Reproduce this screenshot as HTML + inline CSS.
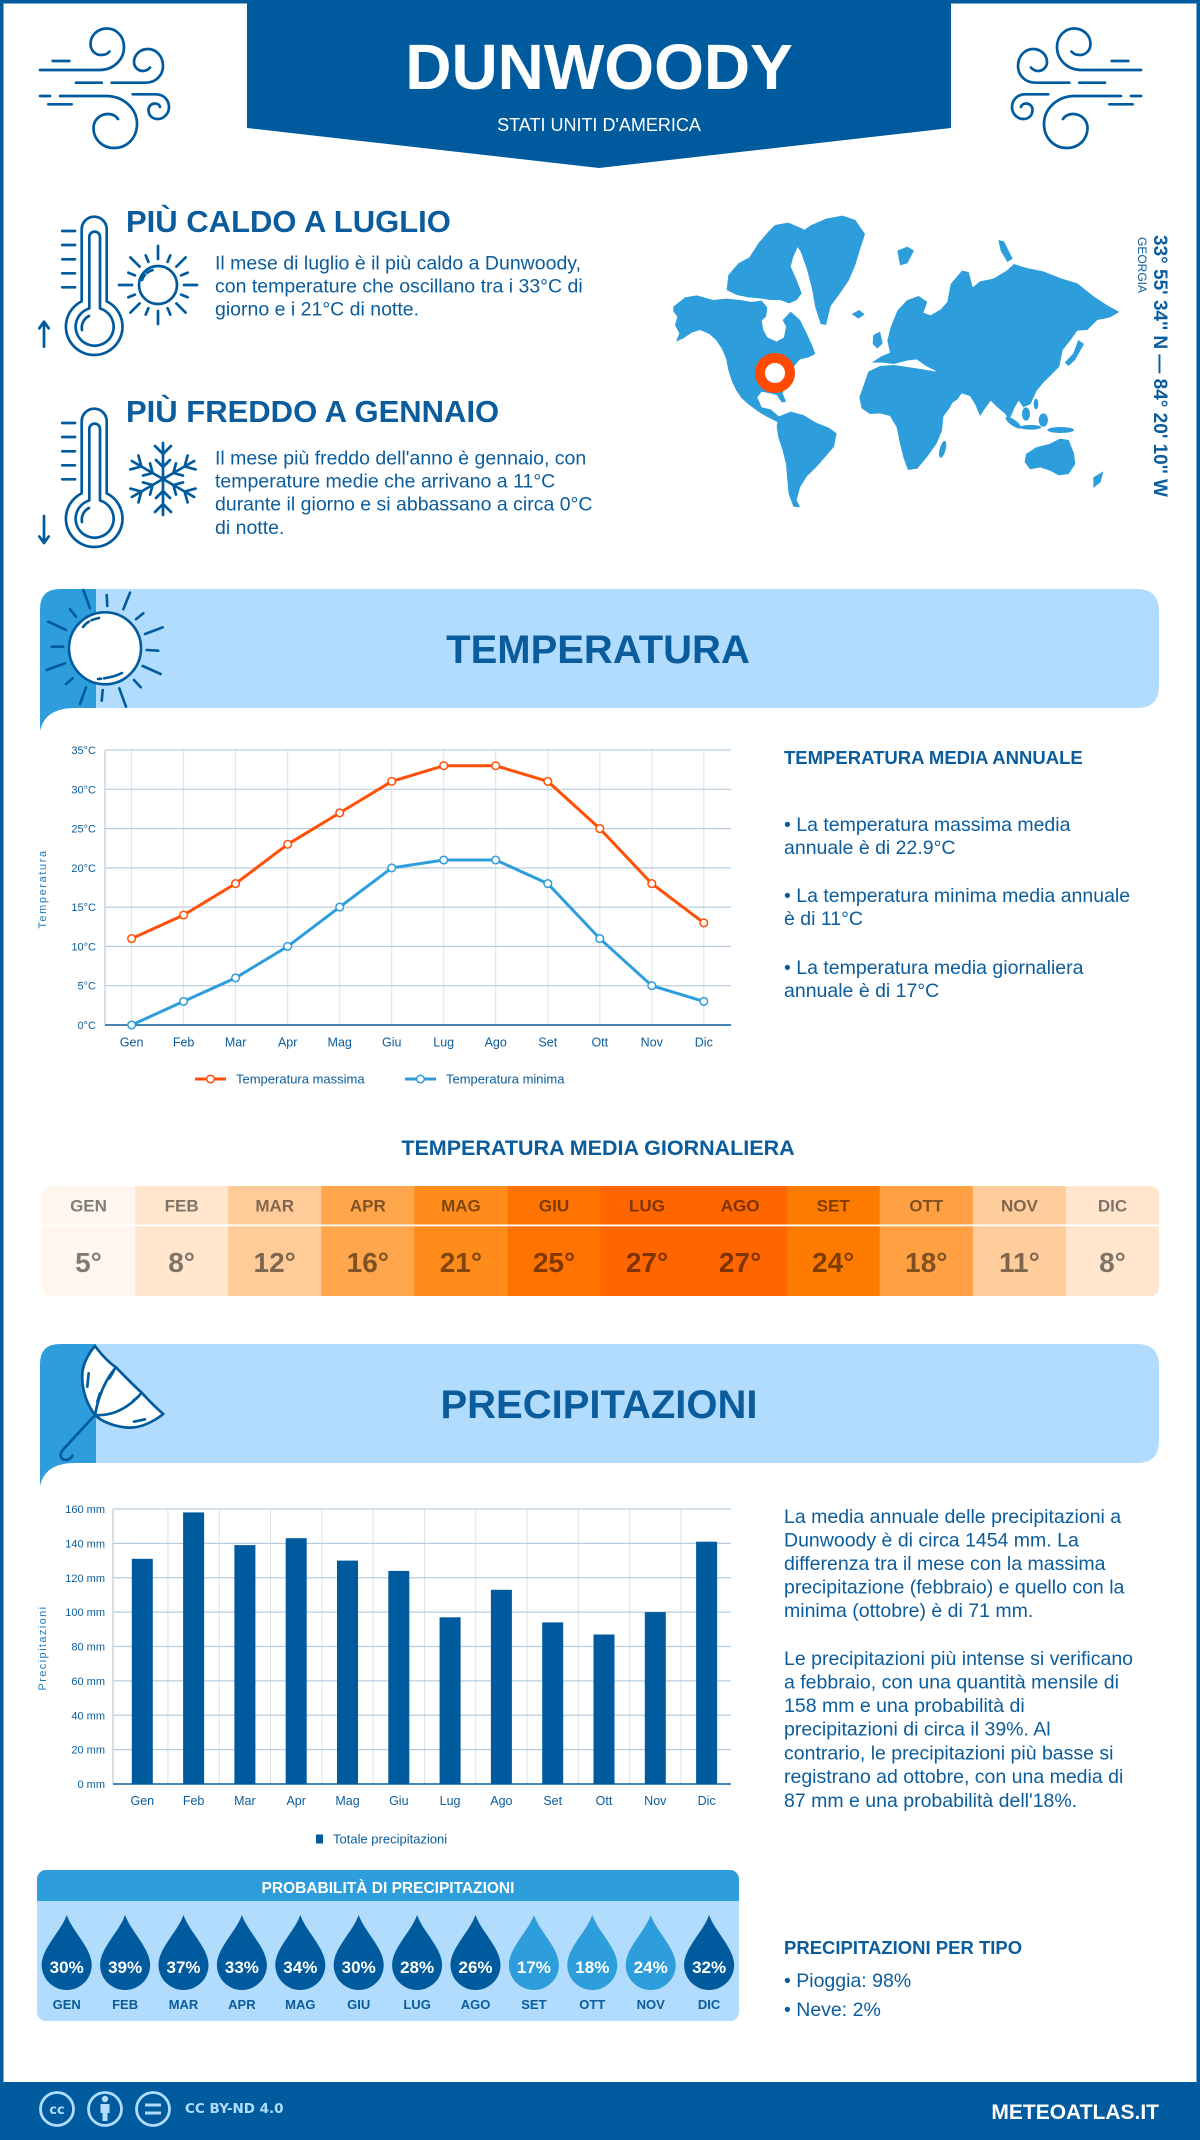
<!DOCTYPE html>
<html><head><meta charset="utf-8"><title>Dunwoody</title>
<style>
html,body{margin:0;padding:0;background:#fff;}
svg{display:block;font-family:"Liberation Sans",Arial,sans-serif;}
</style></head><body>
<svg width="1200" height="2140" viewBox="0 0 1200 2140" xmlns="http://www.w3.org/2000/svg">
<rect width="1200" height="2140" fill="#fff"/>
<rect x="1.75" y="1.75" width="1196.5" height="2140" fill="none" stroke="#005b9e" stroke-width="3.5"/>

<!-- HEADER -->
<polygon points="247,0 951,0 951,128 599,168 247,128" fill="#005b9e"/>
<text x="599" y="89" text-anchor="middle" font-size="64" font-weight="bold" fill="#fff">DUNWOODY</text>
<text x="599" y="131" text-anchor="middle" font-size="18" fill="#fff">STATI UNITI D'AMERICA</text>

<g fill="none" stroke="#005b9e" stroke-width="2.7" stroke-linecap="round">
<path d="M52.7 61 H69.3"/>
<path d="M40 70 H100 C113 70 124 60 124 47 C124 36 116 28.5 107 28.5 C98 28.5 90.5 35 90.5 44 C90.5 50 95 55 101 55 C105 55 108 53.5 109.5 51.5"/>
<path d="M76 82.7 H101.7"/>
<path d="M111.7 82.7 H146 C156 82.7 163 75 163 66 C163 56 156 49 148 49 C140 49 134 55 134 62 C134 67 138 71 143 71 C146 71 149 69 150 67.5"/>
<path d="M40 96 H50"/>
<path d="M60 96 H106 C124 96 137 109 137 124 C137 138 127 148 114 148 C102 148 93.5 139 93.5 128 C93.5 120 100 114 108 114 C113 114 116.5 116.5 118 119"/>
<path d="M48.3 104.3 H71.7"/>
<path d="M132.7 94.3 H156 C163.5 94.3 169 100 169 107 C169 113.5 164 119 157.5 119 C152 119 148.5 115 148.5 110 C148.5 106 151.5 103.5 155 103.5 C157.5 103.5 159.5 105 160 107"/>
</g>
<g transform="translate(1181,0) scale(-1,1)" fill="none" stroke="#005b9e" stroke-width="2.7" stroke-linecap="round">
<path d="M52.7 61 H69.3"/>
<path d="M40 70 H100 C113 70 124 60 124 47 C124 36 116 28.5 107 28.5 C98 28.5 90.5 35 90.5 44 C90.5 50 95 55 101 55 C105 55 108 53.5 109.5 51.5"/>
<path d="M76 82.7 H101.7"/>
<path d="M111.7 82.7 H146 C156 82.7 163 75 163 66 C163 56 156 49 148 49 C140 49 134 55 134 62 C134 67 138 71 143 71 C146 71 149 69 150 67.5"/>
<path d="M40 96 H50"/>
<path d="M60 96 H106 C124 96 137 109 137 124 C137 138 127 148 114 148 C102 148 93.5 139 93.5 128 C93.5 120 100 114 108 114 C113 114 116.5 116.5 118 119"/>
<path d="M48.3 104.3 H71.7"/>
<path d="M132.7 94.3 H156 C163.5 94.3 169 100 169 107 C169 113.5 164 119 157.5 119 C152 119 148.5 115 148.5 110 C148.5 106 151.5 103.5 155 103.5 C157.5 103.5 159.5 105 160 107"/>
</g>

<!-- HOT / COLD -->
<g fill="none" stroke="#005b9e" stroke-width="2.7" stroke-linecap="round" stroke-linejoin="round">
  <path d="M81.7 301.3 V229.2 A12.5 12.5 0 0 1 106.7 229.2 V301.3 A28.3 28.3 0 1 1 81.7 301.3 Z"/>
  <path d="M89.3 308.5 V237 A5.35 5.35 0 0 1 100 237 V308.5 A19 19 0 1 1 89.3 308.5 Z"/>
  <path d="M82 330 A13 13 0 0 1 89 316"/>
  <path d="M62.3 231 H75 M62.3 245 H75 M62.3 259.3 H75 M62.3 273.3 H75 M62.3 287.3 H75"/>
  <path d="M44 346.7 V321.7 M39.3 328.3 L44 321.7 L48.7 328.3"/>
  <circle cx="158" cy="285" r="19"/>
  <path d="M142 280 Q145 272 153 270" stroke-dasharray="6 3"/>
  <path d="M184 285 L197 285 M176.4 303.4 L185.6 312.6 M158 311 L158 324 M139.6 303.4 L130.4 312.6 M132 285 L119 285 M139.6 266.6 L130.4 257.4 M158 259 L158 246 M176.4 266.6 L185.6 257.4 M181.1 294.6 L187.6 297.3 M167.6 308.1 L170.3 314.6 M148.4 308.1 L145.7 314.6 M134.9 294.6 L128.4 297.3 M134.9 275.4 L128.4 272.7 M148.4 261.9 L145.7 255.4 M167.6 261.9 L170.3 255.4 M181.1 275.4 L187.6 272.7"/>

  <g transform="translate(0,192)">
    <path d="M81.7 301.3 V229.2 A12.5 12.5 0 0 1 106.7 229.2 V301.3 A28.3 28.3 0 1 1 81.7 301.3 Z"/>
    <path d="M89.3 308.5 V237 A5.35 5.35 0 0 1 100 237 V308.5 A19 19 0 1 1 89.3 308.5 Z"/>
    <path d="M82 330 A13 13 0 0 1 89 316"/>
    <path d="M62.3 231 H75 M62.3 245 H75 M62.3 259.3 H75 M62.3 273.3 H75 M62.3 287.3 H75"/>
  </g>
  <path d="M44 516 V543 M39.3 536.5 L44 543 L48.7 536.5"/>
  <g transform="translate(163,479)">
    <path d="M0 0 V-36 M-8 -33 L0 -25 L8 -33 M-7 -19 L0 -12 L7 -19"/>
    <path transform="rotate(60)" d="M0 0 V-36 M-8 -33 L0 -25 L8 -33 M-7 -19 L0 -12 L7 -19"/>
    <path transform="rotate(120)" d="M0 0 V-36 M-8 -33 L0 -25 L8 -33 M-7 -19 L0 -12 L7 -19"/>
    <path transform="rotate(180)" d="M0 0 V-36 M-8 -33 L0 -25 L8 -33 M-7 -19 L0 -12 L7 -19"/>
    <path transform="rotate(240)" d="M0 0 V-36 M-8 -33 L0 -25 L8 -33 M-7 -19 L0 -12 L7 -19"/>
    <path transform="rotate(300)" d="M0 0 V-36 M-8 -33 L0 -25 L8 -33 M-7 -19 L0 -12 L7 -19"/>
  </g>
</g>

<g fill="#0b5c9c">
<text x="126" y="232" font-size="31" font-weight="bold">PIÙ CALDO A LUGLIO</text>
<text x="215" y="269.5" font-size="19.5">Il mese di luglio è il più caldo a Dunwoody,</text>
<text x="215" y="292.5" font-size="19.5">con temperature che oscillano tra i 33°C di</text>
<text x="215" y="315.5" font-size="19.5">giorno e i 21°C di notte.</text>
<text x="126" y="422" font-size="31" font-weight="bold">PIÙ FREDDO A GENNAIO</text>
<text x="215" y="464.5" font-size="19.5">Il mese più freddo dell'anno è gennaio, con</text>
<text x="215" y="487.5" font-size="19.5">temperature medie che arrivano a 11°C</text>
<text x="215" y="510.5" font-size="19.5">durante il giorno e si abbassano a circa 0°C</text>
<text x="215" y="534" font-size="19.5">di notte.</text>
</g>

<!-- MAP -->
<g transform="translate(660,200) scale(0.333333)" fill="#2e9ddc">
<polygon points="40,320 75,292 110,286 160,300 200,296 240,300 275,306 305,302 322,322 318,350 305,362 310,390 322,412 350,425 372,412 378,380 368,360 392,335 420,360 440,400 458,440 466,462 445,472 420,478 405,495 392,515 385,540 372,560 368,580 378,605 366,608 350,585 330,580 305,575 292,592 305,622 332,628 352,645 372,662 385,672 372,678 350,665 320,650 295,635 268,615 245,595 228,570 216,545 205,510 198,475 185,445 168,420 148,402 120,390 95,398 70,415 48,425 58,400 45,375 52,350 40,335"/>
<polygon points="205,225 235,190 268,172 295,130 325,95 345,75 385,68 432,88 418,130 400,170 392,200 410,240 425,280 410,300 388,310 360,300 330,300 300,295 265,292 230,285 200,270"/>
<polygon points="418,100 452,76 498,56 548,47 586,60 615,102 602,142 585,198 566,242 540,280 512,318 498,375 482,372 466,322 455,262 440,205 422,155 402,125"/>
<polygon points="575,342 598,330 614,343 595,356"/>
<polygon points="355,650 392,635 430,645 468,668 508,684 530,700 522,740 492,775 468,802 440,830 420,862 410,900 420,922 400,920 386,882 382,840 378,792 368,752 355,712 350,680"/>
<polygon points="606,570 625,515 660,498 700,495 735,500 770,505 800,510 828,515 845,548 862,585 882,598 870,622 850,650 846,692 830,730 802,770 772,806 744,810 730,772 718,722 710,682 690,648 660,640 630,642 605,625 598,592"/>
<ellipse cx="848" cy="748" rx="9" ry="26" transform="rotate(15 848 748)"/>
<polygon points="636,488 662,470 690,458 682,422 692,382 712,332 742,300 776,288 802,306 790,338 812,346 842,328 862,306 872,252 906,212 926,216 938,262 960,244 1000,236 1040,212 1062,192 1100,204 1150,214 1200,234 1252,250 1302,290 1342,316 1378,336 1350,352 1312,360 1282,390 1252,392 1232,420 1208,450 1198,500 1172,526 1150,548 1130,572 1112,612 1090,622 1076,602 1064,622 1048,660 1034,640 1010,620 992,602 972,630 960,648 945,612 930,588 905,580 892,598 872,612 850,575 842,545 826,512 798,498 770,478 740,482 702,492 668,488"/>
<polygon points="640,405 660,395 668,430 652,446 638,432"/>
<polygon points="1255,420 1272,432 1245,480 1226,498 1214,488 1240,460"/>
<polygon points="712,152 742,140 762,152 742,190 720,196"/>
<polygon points="1015,120 1032,124 1058,176 1042,186 1022,152"/>
<polygon points="1098,762 1128,742 1168,732 1200,716 1226,720 1242,760 1246,792 1226,822 1196,826 1170,812 1140,802 1110,808 1094,786"/>
<polygon points="1300,832 1330,814 1322,846 1300,864"/>
<ellipse cx="1060" cy="668" rx="28" ry="9" transform="rotate(35 1060 668)"/>
<ellipse cx="1112" cy="682" rx="32" ry="7"/>
<ellipse cx="1150" cy="660" rx="14" ry="20"/>
<ellipse cx="1202" cy="690" rx="40" ry="9"/>
<ellipse cx="1098" cy="642" rx="12" ry="20"/>
<ellipse cx="1128" cy="612" rx="7" ry="16"/>
</g>
<circle cx="775" cy="373" r="15" fill="#fff" stroke="#ff4a00" stroke-width="10"/>
<text transform="translate(1154,235) rotate(90)" font-size="19" font-weight="bold" fill="#0b5c9c">33° 55' 34'' N — 84° 20' 10'' W</text>
<text transform="translate(1138,237) rotate(90)" font-size="12" fill="#0b5c9c">GEORGIA</text>

<!-- TEMPERATURA BANNER -->
<path d="M96 589 H1137 Q1159 589 1159 611 V686 Q1159 708 1137 708 H96 Z" fill="#b1dcfd"/>
<path d="M40 731 V609 Q40 589 60 589 H96 V708 H75 Q45 708 40 731 Z" fill="#2e9ddc"/>
<g fill="none" stroke="#005b9e" stroke-width="2.6" stroke-linecap="round">
<path d="M83.3 590 L90 608.3 M106.7 595 L107.3 606 M130 592.7 L123.3 609.3 M70 609.3 L76 616.7 M143.3 613.3 L136 619.3 M48.3 621.7 L66 630 M145 634 L162.7 627.3 M51.7 646.7 L63.3 646.7 M146.7 650 L158.3 650.7 M46.7 670 L65 663.3 M142.7 666 L160.7 674 M66 684 L72.7 678.3 M134 680 L140.7 687.3 M80 704 L86 687.3 M102.7 690 L101.7 700.7 M119.3 688.3 L126 706.7"/>
<circle cx="105" cy="648.3" r="36" fill="#fff"/>
<path d="M83 627 Q88 620 99 618" stroke-dasharray="8 3"/>
<path d="M98 679 Q112 678 122 673" stroke-dasharray="3 3 20 0"/>
</g>
<text x="598" y="663" text-anchor="middle" font-size="40" font-weight="bold" fill="#0b5c9c">TEMPERATURA</text>

<!-- TEMP CHART -->
<g stroke="#d6e3ec" stroke-width="1">
<path d="M131.6 750 V1025 M183.6 750 V1025 M235.6 750 V1025 M287.7 750 V1025 M339.7 750 V1025 M391.7 750 V1025 M443.7 750 V1025 M495.7 750 V1025 M547.8 750 V1025 M599.8 750 V1025 M651.8 750 V1025 M703.8 750 V1025"/>
</g>
<g stroke="#b9cddd" stroke-width="1.2">
<path d="M105 750 H731 M105 789.3 H731 M105 828.6 H731 M105 867.9 H731 M105 907.1 H731 M105 946.4 H731 M105 985.7 H731 M105 750 V1025"/>
</g>
<path d="M105 1025 H731" stroke="#0b5c9c" stroke-width="1.6"/>
<g font-size="11" fill="#0b5c9c" text-anchor="end">
<text x="96" y="754">35°C</text><text x="96" y="793.3">30°C</text><text x="96" y="832.6">25°C</text><text x="96" y="871.9">20°C</text><text x="96" y="911.1">15°C</text><text x="96" y="950.4">10°C</text><text x="96" y="989.7">5°C</text><text x="96" y="1029">0°C</text>
</g>
<g font-size="12.5" fill="#0b5c9c" text-anchor="middle">
<text x="131.6" y="1046.5">Gen</text><text x="183.6" y="1046.5">Feb</text><text x="235.6" y="1046.5">Mar</text><text x="287.7" y="1046.5">Apr</text><text x="339.7" y="1046.5">Mag</text><text x="391.7" y="1046.5">Giu</text><text x="443.7" y="1046.5">Lug</text><text x="495.7" y="1046.5">Ago</text><text x="547.8" y="1046.5">Set</text><text x="599.8" y="1046.5">Ott</text><text x="651.8" y="1046.5">Nov</text><text x="703.8" y="1046.5">Dic</text>
</g>
<text transform="translate(46,889) rotate(-90)" text-anchor="middle" font-size="11" letter-spacing="1.6" fill="#1f78b8">Temperatura</text>
<polyline fill="none" stroke="#ff5008" stroke-width="3" points="131.6,938.6 183.6,915 235.6,883.6 287.7,844.3 339.7,812.9 391.7,781.4 443.7,765.7 495.7,765.7 547.8,781.4 599.8,828.6 651.8,883.6 703.8,922.9"/>
<polyline fill="none" stroke="#2e9ddc" stroke-width="3" points="131.6,1025 183.6,1001.4 235.6,977.9 287.7,946.4 339.7,907.1 391.7,867.9 443.7,860 495.7,860 547.8,883.6 599.8,938.6 651.8,985.7 703.8,1001.4"/>
<g fill="#fff" stroke="#ff5008" stroke-width="1.5">
<circle cx="131.6" cy="938.6" r="3.8"/><circle cx="183.6" cy="915" r="3.8"/><circle cx="235.6" cy="883.6" r="3.8"/><circle cx="287.7" cy="844.3" r="3.8"/><circle cx="339.7" cy="812.9" r="3.8"/><circle cx="391.7" cy="781.4" r="3.8"/><circle cx="443.7" cy="765.7" r="3.8"/><circle cx="495.7" cy="765.7" r="3.8"/><circle cx="547.8" cy="781.4" r="3.8"/><circle cx="599.8" cy="828.6" r="3.8"/><circle cx="651.8" cy="883.6" r="3.8"/><circle cx="703.8" cy="922.9" r="3.8"/>
</g>
<g fill="#fff" stroke="#2e9ddc" stroke-width="1.5">
<circle cx="131.6" cy="1025" r="3.8"/><circle cx="183.6" cy="1001.4" r="3.8"/><circle cx="235.6" cy="977.9" r="3.8"/><circle cx="287.7" cy="946.4" r="3.8"/><circle cx="339.7" cy="907.1" r="3.8"/><circle cx="391.7" cy="867.9" r="3.8"/><circle cx="443.7" cy="860" r="3.8"/><circle cx="495.7" cy="860" r="3.8"/><circle cx="547.8" cy="883.6" r="3.8"/><circle cx="599.8" cy="938.6" r="3.8"/><circle cx="651.8" cy="985.7" r="3.8"/><circle cx="703.8" cy="1001.4" r="3.8"/>
</g>
<path d="M195 1079 H226" stroke="#ff5008" stroke-width="3"/><circle cx="210.5" cy="1079" r="3.8" fill="#fff" stroke="#ff5008" stroke-width="1.5"/>
<text x="236" y="1083.5" font-size="13" fill="#0b5c9c">Temperatura massima</text>
<path d="M405 1079 H436" stroke="#2e9ddc" stroke-width="3"/><circle cx="420.5" cy="1079" r="3.8" fill="#fff" stroke="#2e9ddc" stroke-width="1.5"/>
<text x="446" y="1083.5" font-size="13" fill="#0b5c9c">Temperatura minima</text>

<g fill="#0b5c9c">
<text x="784" y="764" font-size="18.5" font-weight="bold">TEMPERATURA MEDIA ANNUALE</text>
<text x="784" y="831" font-size="19.5">• La temperatura massima media</text>
<text x="784" y="854" font-size="19.5">annuale è di 22.9°C</text>
<text x="784" y="902" font-size="19.5">• La temperatura minima media annuale</text>
<text x="784" y="925" font-size="19.5">è di 11°C</text>
<text x="784" y="974" font-size="19.5">• La temperatura media giornaliera</text>
<text x="784" y="997" font-size="19.5">annuale è di 17°C</text>
</g>

<!-- DAILY TABLE -->
<text x="598" y="1155" text-anchor="middle" font-size="21.5" font-weight="bold" fill="#0b5c9c">TEMPERATURA MEDIA GIORNALIERA</text>
<clipPath id="tc"><rect x="42" y="1186" width="1117" height="110" rx="8"/></clipPath>
<g clip-path="url(#tc)">
<rect x="42" y="1186" width="94" height="110" fill="#fff7ef"/>
<rect x="135.08" y="1186" width="94" height="110" fill="#ffe6cd"/>
<rect x="228.17" y="1186" width="94" height="110" fill="#ffcc99"/>
<rect x="321.25" y="1186" width="94" height="110" fill="#ffa54b"/>
<rect x="414.33" y="1186" width="94" height="110" fill="#ff8c1a"/>
<rect x="507.42" y="1186" width="94" height="110" fill="#ff7300"/>
<rect x="600.5" y="1186" width="94" height="110" fill="#ff6600"/>
<rect x="693.58" y="1186" width="94" height="110" fill="#ff6600"/>
<rect x="786.67" y="1186" width="94" height="110" fill="#ff7b00"/>
<rect x="879.75" y="1186" width="94" height="110" fill="#ffa142"/>
<rect x="972.83" y="1186" width="94" height="110" fill="#ffcd9b"/>
<rect x="1065.92" y="1186" width="94" height="110" fill="#ffe6cd"/>
<rect x="42" y="1224.5" width="1117" height="1.8" fill="#fff"/>
</g>
<g fill="#000" fill-opacity="0.5" text-anchor="middle" font-weight="bold">
<g font-size="17">
<text x="88.5" y="1211.5">GEN</text><text x="181.6" y="1211.5">FEB</text><text x="274.7" y="1211.5">MAR</text><text x="367.8" y="1211.5">APR</text><text x="460.9" y="1211.5">MAG</text><text x="554" y="1211.5">GIU</text><text x="647" y="1211.5">LUG</text><text x="740.1" y="1211.5">AGO</text><text x="833.2" y="1211.5">SET</text><text x="926.3" y="1211.5">OTT</text><text x="1019.4" y="1211.5">NOV</text><text x="1112.5" y="1211.5">DIC</text>
</g>
<g font-size="28">
<text x="88.5" y="1272">5°</text><text x="181.6" y="1272">8°</text><text x="274.7" y="1272">12°</text><text x="367.8" y="1272">16°</text><text x="460.9" y="1272">21°</text><text x="554" y="1272">25°</text><text x="647" y="1272">27°</text><text x="740.1" y="1272">27°</text><text x="833.2" y="1272">24°</text><text x="926.3" y="1272">18°</text><text x="1019.4" y="1272">11°</text><text x="1112.5" y="1272">8°</text>
</g>
</g>

<!-- PRECIPITAZIONI BANNER -->
<path d="M96 1344 H1137 Q1159 1344 1159 1366 V1441 Q1159 1463 1137 1463 H96 Z" fill="#b1dcfd"/>
<path d="M40 1486 V1364 Q40 1344 60 1344 H96 V1463 H75 Q45 1463 40 1486 Z" fill="#2e9ddc"/>
<g transform="translate(30,1330) scale(0.333333)" fill="none" stroke="#005b9e" stroke-width="8" stroke-linecap="round" stroke-linejoin="round">
<path fill="#fff" d="M195 48 C215 75 240 100 258 112 C285 140 315 170 335 188 C355 210 380 235 400 252 C370 275 330 298 285 292 C250 288 215 275 195 255 C168 220 152 170 158 120 C165 88 180 65 195 48 Z"/>
<path d="M195 255 C205 200 225 150 258 112"/>
<path d="M195 255 C250 260 300 230 335 188"/>
<path d="M176 130 L172 170 M210 190 L202 215 M325 200 L310 212 M312 275 L345 268 M250 125 L238 145"/>
<path d="M195 255 L100 358 C86 374 92 390 108 390 C118 390 125 382 127 377"/>
</g>
<text x="599" y="1418" text-anchor="middle" font-size="40" font-weight="bold" fill="#0b5c9c">PRECIPITAZIONI</text>

<!-- PRECIP CHART -->
<g stroke="#d6e3ec" stroke-width="1">
<path d="M167.95 1509 V1784 M219.25 1509 V1784 M270.55 1509 V1784 M321.85 1509 V1784 M373.15 1509 V1784 M424.45 1509 V1784 M475.75 1509 V1784 M527.05 1509 V1784 M578.35 1509 V1784 M629.65 1509 V1784 M680.95 1509 V1784"/>
</g>
<g stroke="#b9cddd" stroke-width="1.2">
<path d="M113 1509 H731 M113 1543.4 H731 M113 1577.75 H731 M113 1612.1 H731 M113 1646.5 H731 M113 1680.9 H731 M113 1715.25 H731 M113 1749.6 H731 M113 1509 V1784"/>
</g>
<path d="M113 1784 H731" stroke="#0b5c9c" stroke-width="1.6"/>
<g fill="#005b9e">
<rect x="131.8" y="1558.8" width="21" height="225.2"/>
<rect x="183.1" y="1512.4" width="21" height="271.6"/>
<rect x="234.4" y="1545.1" width="21" height="238.9"/>
<rect x="285.7" y="1538.2" width="21" height="245.8"/>
<rect x="337" y="1560.6" width="21" height="223.4"/>
<rect x="388.3" y="1570.9" width="21" height="213.1"/>
<rect x="439.6" y="1617.3" width="21" height="166.7"/>
<rect x="490.9" y="1589.8" width="21" height="194.2"/>
<rect x="542.2" y="1622.4" width="21" height="161.6"/>
<rect x="593.5" y="1634.5" width="21" height="149.5"/>
<rect x="644.8" y="1612.1" width="21" height="171.9"/>
<rect x="696.1" y="1541.7" width="21" height="242.3"/>
</g>
<g font-size="11" fill="#0b5c9c" text-anchor="end">
<text x="105" y="1513">160 mm</text><text x="105" y="1547.4">140 mm</text><text x="105" y="1581.75">120 mm</text><text x="105" y="1616.1">100 mm</text><text x="105" y="1650.5">80 mm</text><text x="105" y="1684.9">60 mm</text><text x="105" y="1719.25">40 mm</text><text x="105" y="1753.6">20 mm</text><text x="105" y="1788">0 mm</text>
</g>
<g font-size="12.5" fill="#0b5c9c" text-anchor="middle">
<text x="142.3" y="1805">Gen</text><text x="193.6" y="1805">Feb</text><text x="244.9" y="1805">Mar</text><text x="296.2" y="1805">Apr</text><text x="347.5" y="1805">Mag</text><text x="398.8" y="1805">Giu</text><text x="450.1" y="1805">Lug</text><text x="501.4" y="1805">Ago</text><text x="552.7" y="1805">Set</text><text x="604" y="1805">Ott</text><text x="655.3" y="1805">Nov</text><text x="706.6" y="1805">Dic</text>
</g>
<text transform="translate(46,1648) rotate(-90)" text-anchor="middle" font-size="11" letter-spacing="1.4" fill="#1f78b8">Precipitazioni</text>
<rect x="316" y="1834.5" width="7" height="9" fill="#005b9e"/>
<text x="333" y="1843.5" font-size="13" fill="#0b5c9c">Totale precipitazioni</text>

<g fill="#0b5c9c" font-size="19.5">
<text x="784" y="1523">La media annuale delle precipitazioni a</text>
<text x="784" y="1546.5">Dunwoody è di circa 1454 mm. La</text>
<text x="784" y="1570">differenza tra il mese con la massima</text>
<text x="784" y="1593.5">precipitazione (febbraio) e quello con la</text>
<text x="784" y="1617">minima (ottobre) è di 71 mm.</text>
<text x="784" y="1665">Le precipitazioni più intense si verificano</text>
<text x="784" y="1688.5">a febbraio, con una quantità mensile di</text>
<text x="784" y="1712">158 mm e una probabilità di</text>
<text x="784" y="1735.5">precipitazioni di circa il 39%. Al</text>
<text x="784" y="1759.5">contrario, le precipitazioni più basse si</text>
<text x="784" y="1783">registrano ad ottobre, con una media di</text>
<text x="784" y="1807">87 mm e una probabilità dell'18%.</text>
</g>

<!-- PROBABILITY -->
<clipPath id="pc"><rect x="37" y="1870" width="702" height="151" rx="9"/></clipPath>
<g clip-path="url(#pc)">
<rect x="37" y="1870" width="702" height="151" fill="#b1dcfd"/>
<rect x="37" y="1870" width="702" height="31" fill="#2e9ddc"/>
</g>
<text x="388" y="1893" text-anchor="middle" font-size="15.5" font-weight="bold" fill="#fff">PROBABILITÀ DI PRECIPITAZIONI</text>
<g fill="#005b9e">
<path transform="translate(66.7,1965)" d="M0,-50 C6,-33 25,-17 25,0 A25,25 0 0 1 -25,0 C-25,-17 -6,-33 0,-50Z"/>
<path transform="translate(125.1,1965)" d="M0,-50 C6,-33 25,-17 25,0 A25,25 0 0 1 -25,0 C-25,-17 -6,-33 0,-50Z"/>
<path transform="translate(183.5,1965)" d="M0,-50 C6,-33 25,-17 25,0 A25,25 0 0 1 -25,0 C-25,-17 -6,-33 0,-50Z"/>
<path transform="translate(241.9,1965)" d="M0,-50 C6,-33 25,-17 25,0 A25,25 0 0 1 -25,0 C-25,-17 -6,-33 0,-50Z"/>
<path transform="translate(300.3,1965)" d="M0,-50 C6,-33 25,-17 25,0 A25,25 0 0 1 -25,0 C-25,-17 -6,-33 0,-50Z"/>
<path transform="translate(358.7,1965)" d="M0,-50 C6,-33 25,-17 25,0 A25,25 0 0 1 -25,0 C-25,-17 -6,-33 0,-50Z"/>
<path transform="translate(417.1,1965)" d="M0,-50 C6,-33 25,-17 25,0 A25,25 0 0 1 -25,0 C-25,-17 -6,-33 0,-50Z"/>
<path transform="translate(475.5,1965)" d="M0,-50 C6,-33 25,-17 25,0 A25,25 0 0 1 -25,0 C-25,-17 -6,-33 0,-50Z"/>
<path transform="translate(709.1,1965)" d="M0,-50 C6,-33 25,-17 25,0 A25,25 0 0 1 -25,0 C-25,-17 -6,-33 0,-50Z"/>
</g>
<g fill="#2e9ddc">
<path transform="translate(533.9,1965)" d="M0,-50 C6,-33 25,-17 25,0 A25,25 0 0 1 -25,0 C-25,-17 -6,-33 0,-50Z"/>
<path transform="translate(592.3,1965)" d="M0,-50 C6,-33 25,-17 25,0 A25,25 0 0 1 -25,0 C-25,-17 -6,-33 0,-50Z"/>
<path transform="translate(650.7,1965)" d="M0,-50 C6,-33 25,-17 25,0 A25,25 0 0 1 -25,0 C-25,-17 -6,-33 0,-50Z"/>
</g>
<g fill="#fff" font-size="17" font-weight="bold" text-anchor="middle">
<text x="66.7" y="1973">30%</text><text x="125.1" y="1973">39%</text><text x="183.5" y="1973">37%</text><text x="241.9" y="1973">33%</text><text x="300.3" y="1973">34%</text><text x="358.7" y="1973">30%</text><text x="417.1" y="1973">28%</text><text x="475.5" y="1973">26%</text><text x="533.9" y="1973">17%</text><text x="592.3" y="1973">18%</text><text x="650.7" y="1973">24%</text><text x="709.1" y="1973">32%</text>
</g>
<g fill="#0b5c9c" font-size="13" font-weight="bold" text-anchor="middle">
<text x="66.7" y="2009">GEN</text><text x="125.1" y="2009">FEB</text><text x="183.5" y="2009">MAR</text><text x="241.9" y="2009">APR</text><text x="300.3" y="2009">MAG</text><text x="358.7" y="2009">GIU</text><text x="417.1" y="2009">LUG</text><text x="475.5" y="2009">AGO</text><text x="533.9" y="2009">SET</text><text x="592.3" y="2009">OTT</text><text x="650.7" y="2009">NOV</text><text x="709.1" y="2009">DIC</text>
</g>

<g fill="#0b5c9c">
<text x="784" y="1954" font-size="18.5" font-weight="bold">PRECIPITAZIONI PER TIPO</text>
<text x="784" y="1987" font-size="19.5">• Pioggia: 98%</text>
<text x="784" y="2016" font-size="19.5">• Neve: 2%</text>
</g>

<!-- FOOTER -->
<rect x="0" y="2082" width="1200" height="58" fill="#005b9e"/>
<g fill="none" stroke="#b1dcfd" stroke-width="2.8">
<circle cx="57" cy="2109" r="16.5"/>
<circle cx="105" cy="2109" r="16.5"/>
<circle cx="153" cy="2109" r="16.5"/>
<path d="M145 2105 H161 M145 2113 H161" stroke-width="3"/>
</g>
<text x="57" y="2114" text-anchor="middle" font-family="DejaVu Sans, sans-serif" font-size="13" font-weight="bold" fill="#b1dcfd">cc</text>
<circle cx="105" cy="2099" r="3.2" fill="#b1dcfd"/>
<path d="M100.5 2104 H109.5 V2113 H107.5 V2121 H102.5 V2113 H100.5 Z" fill="#b1dcfd"/>
<text x="185" y="2113" font-family="DejaVu Sans, sans-serif" font-size="13.5" font-weight="bold" fill="#b1dcfd">CC BY-ND 4.0</text>
<text x="1159" y="2119" text-anchor="end" font-size="21" font-weight="bold" fill="#fff">METEOATLAS.IT</text>
</svg>
</body></html>
